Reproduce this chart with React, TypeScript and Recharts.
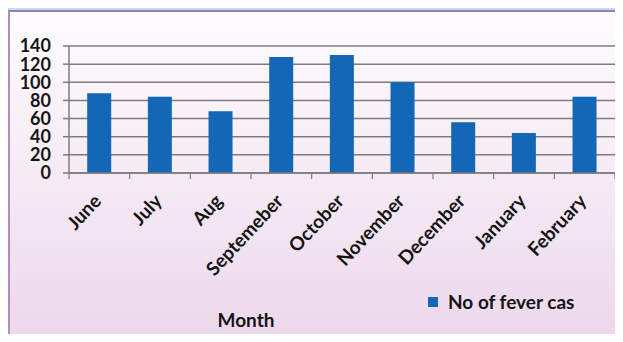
import * as React from 'react';
import {
  BarChart,
  Bar,
  XAxis,
  YAxis,
  CartesianGrid,
  Legend,
  Label,
} from 'recharts';

// ============================================================================
// Data
// ============================================================================

const months = [
  'June',
  'July',
  'Aug',
  'Septemeber',
  'October',
  'November',
  'December',
  'January',
  'February',
];

const feverCases = [88, 84, 68, 128, 130, 100, 56, 44, 84];

const yTicks = [0, 20, 40, 60, 80, 100, 120, 140];

const seriesName = 'No of fever cas';

const data = months.map((month, i) => ({ month, cases: feverCases[i] }));

// ============================================================================
// Layout / style
// ============================================================================

const CHART_W = 613;
const CHART_H = 330;
const MARGIN = { top: 34, right: 8, left: 0, bottom: 0 };
const Y_AXIS_W = 59;
const PLOT_H = 127;
const X_AXIS_H = CHART_H - MARGIN.top - MARGIN.bottom - PLOT_H;
const BAND = (CHART_W - MARGIN.left - MARGIN.right - Y_AXIS_W) / months.length;

const FONT = 'Lato, "Open Sans", sans-serif';
const TEXT = '#141414';
const BAR = '#1466b6';
const GRID = '#7c7c7c';

/**
 * Rotated month label plus a tick mark on the left edge of each band
 */
function MonthTick(props: any) {
  const { x, y, payload, index } = props;
  const isLast = index === months.length - 1;
  return (
    <g>
      <line x1={x - BAND / 2} y1={y} x2={x - BAND / 2} y2={y + 6} stroke={GRID} strokeWidth={1.2} />
      {isLast && (
        <line x1={x + BAND / 2} y1={y} x2={x + BAND / 2} y2={y + 6} stroke={GRID} strokeWidth={1.2} />
      )}
      <text
        transform={`translate(${x + 3},${y + 29}) rotate(-47)`}
        textAnchor="end"
        fill={TEXT}
        fontFamily={FONT}
        fontWeight={700}
        fontSize={19}
      >
        {payload.value}
      </text>
    </g>
  );
}

function LegendContent() {
  return (
    <div
      style={{
        display: 'flex',
        alignItems: 'center',
        fontFamily: FONT,
        fontWeight: 700,
        fontSize: 19,
        color: TEXT,
        lineHeight: '23px',
        whiteSpace: 'nowrap',
      }}
    >
      <span style={{ width: 10, height: 10, background: BAR, marginRight: 10, display: 'inline-block' }} />
      <span>{seriesName}</span>
    </div>
  );
}

// ============================================================================
// Component
// ============================================================================

export default function App() {
  return (
    <div
      style={{
        margin: -8,
        width: 623,
        height: 342,
        position: 'relative',
        overflow: 'hidden',
        background: 'linear-gradient(to bottom, #bcdcf3, #cfe5f6)',
      }}
    >
      <div
        style={{
          position: 'absolute',
          left: 8,
          top: 10,
          width: 615,
          height: 332,
          borderTop: '2px solid #a27aaf',
          borderLeft: '2px solid #b48bbd',
          background: 'linear-gradient(to bottom, #fefcfe 0%, #f6ecf5 45%, #ecd7ec 100%)',
        }}
      >
        <BarChart
          width={CHART_W}
          height={CHART_H}
          data={data}
          margin={MARGIN}
          barCategoryGap="30%"
        >
          <CartesianGrid horizontal vertical={false} stroke={GRID} strokeWidth={1.5} />
          <XAxis
            dataKey="month"
            height={X_AXIS_H}
            interval={0}
            tickLine={false}
            tickSize={0}
            tickMargin={0}
            axisLine={{ stroke: GRID, strokeWidth: 1.5 }}
            tick={<MonthTick />}
          >
            <Label
              value="Month"
              position="insideBottom"
              offset={15}
              dx={-96}
              fill={TEXT}
              fontFamily={FONT}
              fontWeight={700}
              fontSize={19}
            />
          </XAxis>
          <YAxis
            width={Y_AXIS_W}
            domain={[0, 140]}
            ticks={yTicks}
            interval={0}
            tickSize={6}
            tickMargin={12}
            tickLine={{ stroke: GRID, strokeWidth: 1.5 }}
            axisLine={{ stroke: GRID, strokeWidth: 1.5 }}
            tick={{ fill: TEXT, fontFamily: FONT, fontWeight: 700, fontSize: 18 }}
          />
          <Legend
            layout="horizontal"
            verticalAlign="middle"
            align="center"
            wrapperStyle={{ left: 418, top: 278, width: 'auto' }}
            content={<LegendContent />}
          />
          <Bar dataKey="cases" name={seriesName} fill={BAR} isAnimationActive={false} />
        </BarChart>
      </div>
    </div>
  );
}
